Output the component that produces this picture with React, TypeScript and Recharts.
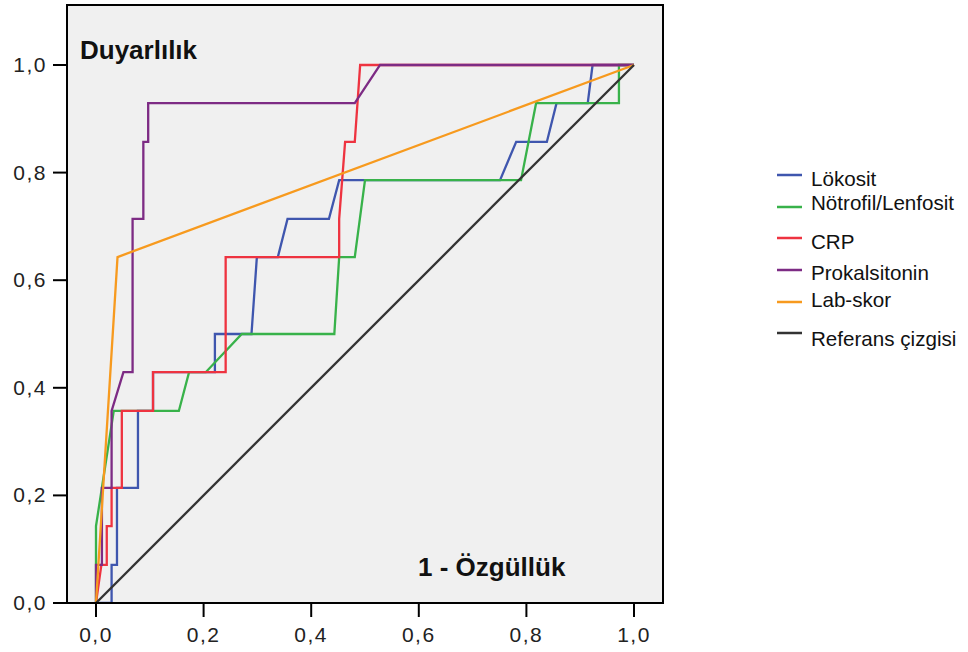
import { CartesianGrid, Customized, Legend, Line, LineChart, ReferenceArea, XAxis, YAxis } from 'recharts'

// ROC points as [1 - Özgüllük, Duyarlılık]
const LOKOSIT: [number, number][] = [
  [0, 0], [0.029, 0], [0.029, 0.071], [0.039, 0.071], [0.039, 0.214], [0.078, 0.214],
  [0.078, 0.357], [0.106, 0.357], [0.106, 0.429], [0.221, 0.429], [0.221, 0.5], [0.289, 0.5],
  [0.299, 0.643], [0.338, 0.643], [0.356, 0.714], [0.433, 0.714], [0.452, 0.786], [0.751, 0.786],
  [0.781, 0.857], [0.838, 0.857], [0.856, 0.929], [0.914, 0.929], [0.923, 1], [1, 1],
]
const NOTROFIL: [number, number][] = [
  [0, 0], [0, 0.143], [0.033, 0.357], [0.154, 0.357], [0.173, 0.429], [0.204, 0.429],
  [0.271, 0.5], [0.443, 0.5], [0.452, 0.643], [0.481, 0.643], [0.5, 0.786], [0.79, 0.786],
  [0.818, 0.929], [0.972, 0.929], [0.972, 1], [1, 1],
]
const CRP: [number, number][] = [
  [0, 0], [0.01, 0.071], [0.02, 0.071], [0.02, 0.143], [0.029, 0.143], [0.029, 0.214],
  [0.048, 0.214], [0.048, 0.357], [0.106, 0.357], [0.106, 0.429], [0.241, 0.429], [0.241, 0.643],
  [0.452, 0.643], [0.452, 0.714], [0.463, 0.857], [0.481, 0.857], [0.491, 1], [1, 1],
]
const PROKALSITONIN: [number, number][] = [
  [0, 0], [0, 0.071], [0.011, 0.071], [0.011, 0.214], [0.029, 0.214], [0.029, 0.357],
  [0.051, 0.429], [0.068, 0.429], [0.068, 0.714], [0.088, 0.714], [0.088, 0.857], [0.097, 0.857],
  [0.097, 0.929], [0.481, 0.929], [0.528, 1], [1, 1],
]
const LAB_SKOR: [number, number][] = [[0, 0], [0.04, 0.643], [1, 1]]
const REFERANS: [number, number][] = [[0, 0], [1, 1]]

const TICKS = [0, 0.2, 0.4, 0.6, 0.8, 1.0]
const X_DOMAIN: [number, number] = [-0.0539, 1.0539]
const Y_DOMAIN: [number, number] = [0, 1.1115]

const SERIES = [
  { name: 'Lökosit', points: LOKOSIT, color: '#3f56ae' },
  { name: 'Nötrofil/Lenfosit', points: NOTROFIL, color: '#38b24a' },
  { name: 'CRP', points: CRP, color: '#ee3340' },
  { name: 'Prokalsitonin', points: PROKALSITONIN, color: '#7d2b84' },
  { name: 'Lab-skor', points: LAB_SKOR, color: '#f79a1e' },
  { name: 'Referans çizgisi', points: REFERANS, color: '#333333' },
]

const FONT = "'Liberation Sans', Arial, sans-serif"
const fmt = (v: number) => v.toFixed(1).replace('.', ',')

// legend rows: sample line y and text baseline (uneven, as in the original)
const LEGEND_ROWS = [
  { line: 16, text: 27 },
  { line: 48, text: 51 },
  { line: 79, text: 90 },
  { line: 111, text: 121 },
  { line: 143, text: 148 },
  { line: 174, text: 187 },
]

function YTick({ x, y, payload }: any) {
  return (
    <text x={x} y={y} dy={7} textAnchor="end" fontSize={21} letterSpacing={1.5} fontFamily={FONT} fill="#222">
      {fmt(payload.value)}
    </text>
  )
}

function XTick({ x, y, payload }: any) {
  return (
    <text x={x} y={y} dy={15} textAnchor="middle" fontSize={21} letterSpacing={1.5} fontFamily={FONT} fill="#222">
      {fmt(payload.value)}
    </text>
  )
}

// legend drawn in series order (the default payload comes out sorted)
function LegendBox() {
  return (
    <svg width={198} height={200}>
      {SERIES.map((s, i) => (
        <g key={s.name}>
          <line x1={7} x2={32} y1={LEGEND_ROWS[i].line} y2={LEGEND_ROWS[i].line} stroke={s.color} strokeWidth={2.5} />
          <text x={41} y={LEGEND_ROWS[i].text} fontSize={20.6} fontFamily={FONT} fill="#111">
            {s.name}
          </text>
        </g>
      ))}
    </svg>
  )
}

function Titles() {
  return (
    <g fontFamily={FONT} fontWeight="bold" fontSize={26} fill="#111">
      <text x={80} y={59}>Duyarlılık</text>
      <text x={418} y={576}>1 - Özgüllük</text>
    </g>
  )
}

export default function App() {
  return (
    <div style={{ position: 'absolute', left: 0, top: 0 }}>
      <LineChart width={968} height={652} margin={{ top: 5, right: 305, bottom: 0, left: 0 }}>
        <CartesianGrid fill="#f0f0f0" horizontal={false} vertical={false} xAxisId="x" yAxisId="y" />
        <XAxis
          xAxisId="x"
          type="number"
          dataKey="x"
          domain={X_DOMAIN}
          allowDataOverflow
          ticks={TICKS}
          height={49}
          tickSize={14}
          tickMargin={10}
          tick={<XTick />}
          tickLine={{ stroke: '#000', strokeWidth: 2 }}
          axisLine={{ stroke: '#000', strokeWidth: 2 }}
        />
        <YAxis
          yAxisId="y"
          type="number"
          dataKey="y"
          domain={Y_DOMAIN}
          allowDataOverflow
          ticks={TICKS}
          width={67}
          tickSize={14}
          tickMargin={6}
          tick={<YTick />}
          tickLine={{ stroke: '#000', strokeWidth: 2 }}
          axisLine={{ stroke: '#000', strokeWidth: 2 }}
        />
        <ReferenceArea
          xAxisId="x"
          yAxisId="y"
          x1={X_DOMAIN[0]}
          x2={X_DOMAIN[1]}
          y1={Y_DOMAIN[0]}
          y2={Y_DOMAIN[1]}
          fill="none"
          stroke="#000"
          strokeWidth={2}
          ifOverflow="visible"
        />
        {SERIES.map((s) => (
          <Line
            key={s.name}
            xAxisId="x"
            yAxisId="y"
            name={s.name}
            data={s.points.map(([x, y]) => ({ x, y }))}
            dataKey="y"
            type="linear"
            stroke={s.color}
            strokeWidth={2.3}
            dot={false}
            activeDot={false}
            isAnimationActive={false}
          />
        ))}
        <Legend
          layout="vertical"
          align="center"
          verticalAlign="middle"
          content={<LegendBox />}
          wrapperStyle={{ position: 'absolute', left: 770, top: 159, width: 198, height: 200 }}
        />
        <Customized component={Titles} />
      </LineChart>
    </div>
  )
}
